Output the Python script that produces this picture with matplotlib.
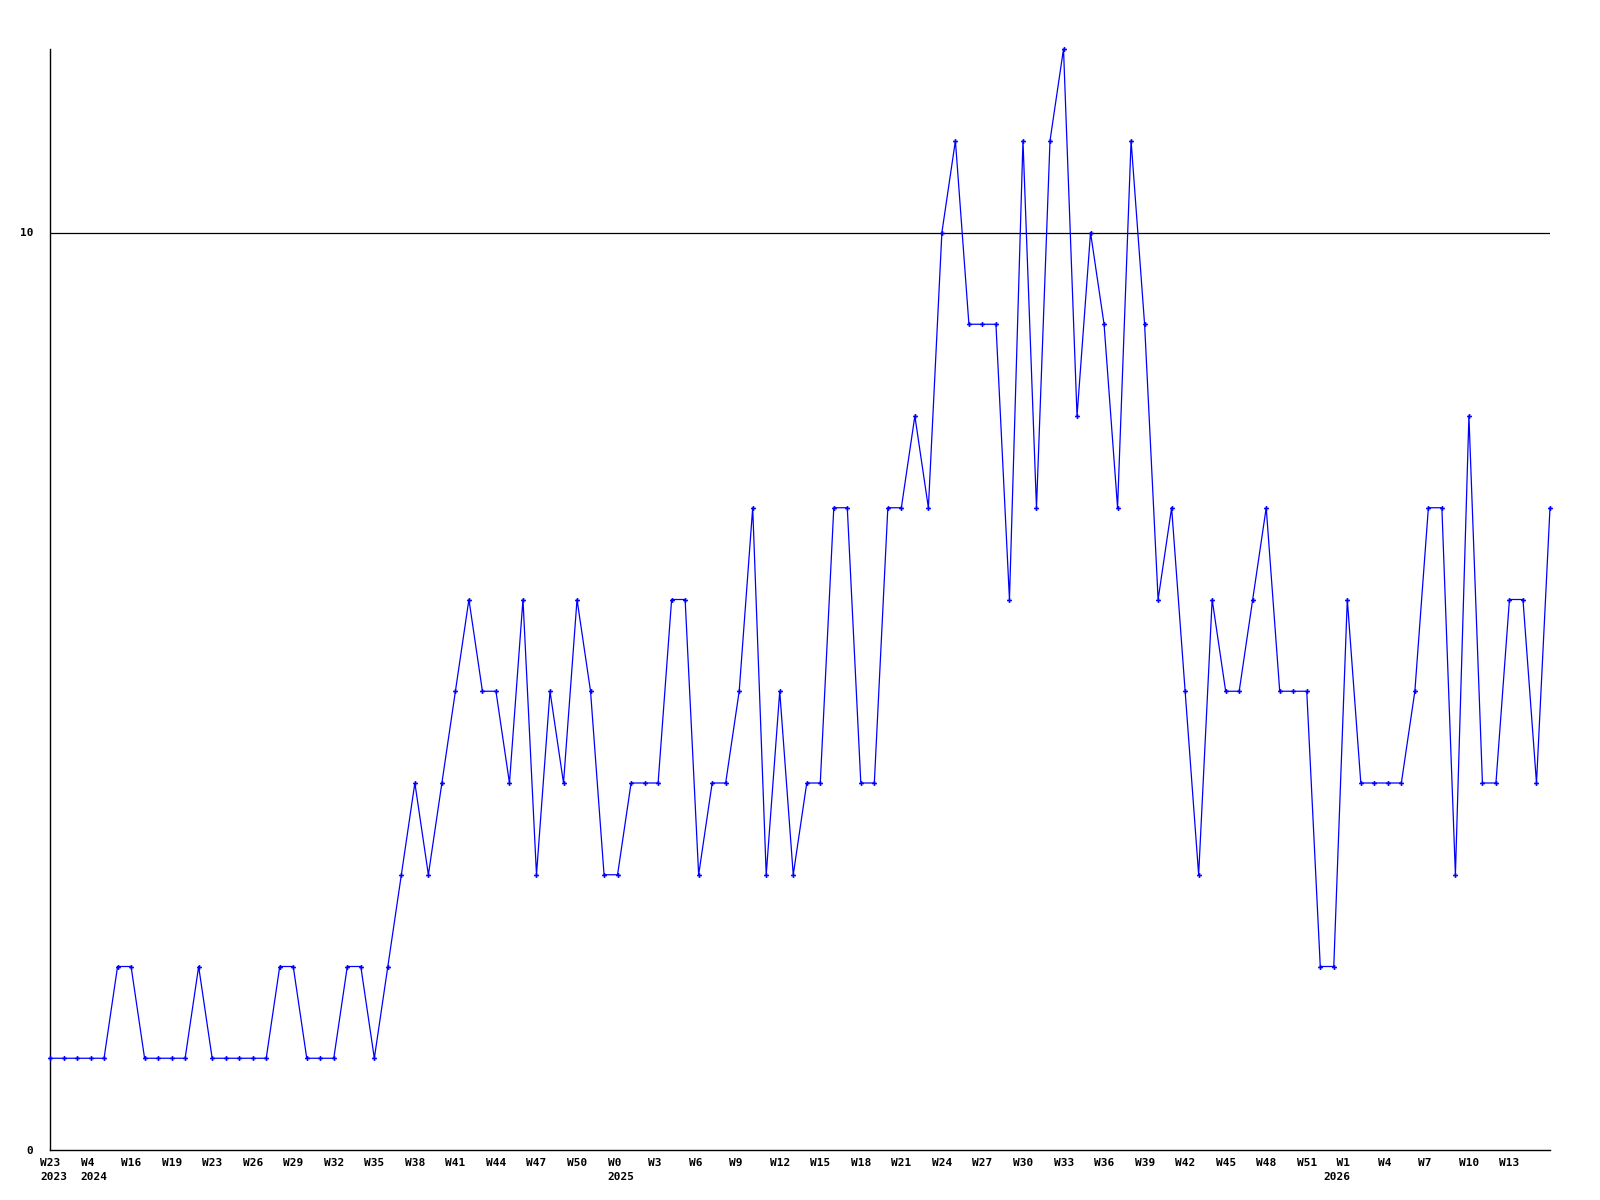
import matplotlib
matplotlib.use("Agg")
import matplotlib.pyplot as plt
import matplotlib.transforms as mtransforms
import numpy as np

values = [1, 1, 1, 1, 1, 2, 2, 1, 1, 1, 1, 2, 1, 1, 1, 1, 1, 2, 2, 1,
          1, 1, 2, 2, 1, 2, 3, 4, 3, 4, 5, 6, 5, 5, 4, 6, 3, 5, 4, 6,
          5, 3, 3, 4, 4, 4, 6, 6, 3, 4, 4, 5, 7, 3, 5, 3, 4, 4, 7, 7,
          4, 4, 7, 7, 8, 7, 10, 11, 9, 9, 9, 6, 11, 7, 11, 12, 8, 10, 9, 7,
          11, 9, 6, 7, 5, 3, 6, 5, 5, 6, 7, 5, 5, 5, 2, 2, 6, 4, 4, 4,
          4, 5, 7, 7, 3, 8, 4, 4, 6, 6, 4, 7]

tick_labels = ["W23\n2023", "W4\n2024", "W16", "W19", "W23", "W26", "W29", "W32",
               "W35", "W38", "W41", "W44", "W47", "W50", "W0\n2025", "W3", "W6",
               "W9", "W12", "W15", "W18", "W21", "W24", "W27", "W30", "W33",
               "W36", "W39", "W42", "W45", "W48", "W51", "  W1\n2026", "W4", "W7",
               "W10", "W13"]
tick_step = 3
y_ticks = [0, 10]
ref_line = 10

fig = plt.figure(figsize=(16, 12), dpi=100)
ax = fig.add_axes([50/1600, 50/1200, 1500/1600, 1101/1200])

x = np.arange(len(values))
ax.plot(x, values, color="#0000ff", linewidth=0.9, marker="P", markersize=3.5,
        markeredgewidth=0, clip_on=False, zorder=3)
ax.axhline(ref_line, color="black", linewidth=0.9, zorder=2)

ax.set_xlim(0, len(values) - 1)
ax.set_ylim(0, 12)

for s in ["top", "right"]:
    ax.spines[s].set_visible(False)
for s in ["left", "bottom"]:
    ax.spines[s].set_linewidth(1.0)
    ax.spines[s].set_color("black")

font = dict(family="DejaVu Sans Mono", weight="bold", size=8)

ax.set_yticks(y_ticks)
ax.set_yticklabels([str(v) for v in y_ticks], **font)
ax.tick_params(axis="y", length=0, pad=12)

xt = np.arange(0, len(tick_labels) * tick_step, tick_step)
ax.set_xticks(xt)
ax.set_xticklabels(tick_labels, ha="left", linespacing=1.45, **font)
ax.tick_params(axis="x", length=0, pad=6)
for lab in ax.get_xticklabels():
    shift = -24 if lab.get_text().startswith(" ") else -10
    offset = mtransforms.ScaledTranslation(shift/100, 0, fig.dpi_scale_trans)
    lab.set_transform(lab.get_transform() + offset)

fig.savefig("out.png", dpi=100)
